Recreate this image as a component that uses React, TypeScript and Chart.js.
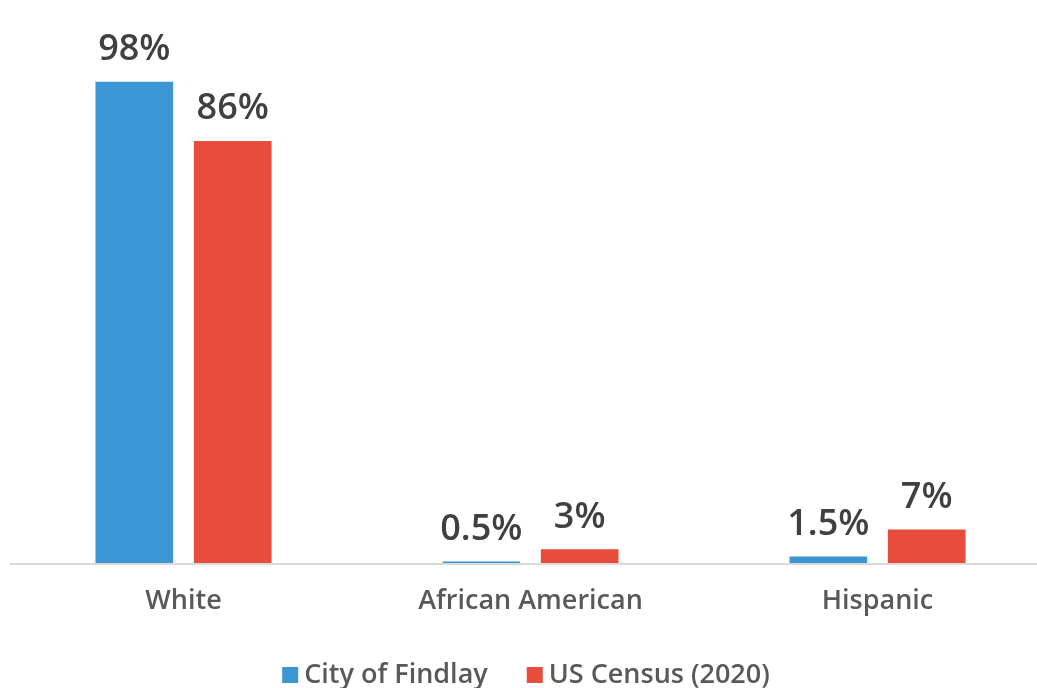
import React, { useEffect, useRef } from "react";
import { Chart, registerables } from "chart.js";

Chart.register(...registerables);

const categories = ["White", "African American", "Hispanic"];
const seriesNames = ["City of Findlay", "US Census (2020)"];
const findlayValues = [98, 0.5, 1.5];
const censusValues = [86, 3, 7];
const findlayLabels = ["98%", "0.5%", "1.5%"];
const censusLabels = ["86%", "3%", "7%"];
const colors = ["#3C96D3", "#E74C3C"];

const LABEL_FONT = "'Open Sans', Lato, sans-serif";

const customDraw = {
  id: "customDraw",
  afterDatasetsDraw(chart: any) {
    const ctx = chart.ctx;
    const area = chart.chartArea;
    const xScale = chart.scales.x;
    ctx.save();
    // axis line
    ctx.strokeStyle = "#D9D9D9";
    ctx.lineWidth = 2;
    ctx.beginPath();
    ctx.moveTo(area.left, area.bottom);
    ctx.lineTo(chart.width, area.bottom);
    ctx.stroke();

    // data labels
    const labelSets = [findlayLabels, censusLabels];
    ctx.font = `600 36px ${LABEL_FONT}`;
    ctx.fillStyle = "#404040";
    ctx.textAlign = "center";
    ctx.textBaseline = "alphabetic";
    chart.data.datasets.forEach((ds: any, di: number) => {
      const meta = chart.getDatasetMeta(di);
      meta.data.forEach((bar: any, i: number) => {
        ctx.fillText(labelSets[di][i], bar.x, bar.y - 21.5);
      });
    });

    // category labels
    ctx.font = `600 27px ${LABEL_FONT}`;
    ctx.fillStyle = "#595959";
    categories.forEach((c, i) => {
      const x = xScale.getPixelForValue(i);
      ctx.fillText(c, x, 609);
    });

    // legend
    ctx.font = `600 27px ${LABEL_FONT}`;
    ctx.textAlign = "left";
    const box = 16;
    const boxGap = 6;
    const itemGap = 39;
    const widths = seriesNames.map((n) => ctx.measureText(n).width);
    const total =
      widths.reduce((a, b) => a + b, 0) +
      seriesNames.length * (box + boxGap) +
      itemGap * (seriesNames.length - 1);
    let x = 526 - total / 2;
    seriesNames.forEach((n, i) => {
      ctx.fillStyle = colors[i];
      ctx.fillRect(x, 667, box, box);
      x += box + boxGap;
      ctx.fillStyle = "#595959";
      ctx.fillText(n, x, 683);
      x += widths[i] + itemGap;
    });
    ctx.restore();
  },
};

export default function App() {
  const ref = useRef<HTMLCanvasElement>(null);
  useEffect(() => {
    const canvas = ref.current!;
    const chart = new Chart(canvas, {
      type: "bar",
      data: {
        labels: categories,
        datasets: [
          {
            label: seriesNames[0],
            data: findlayValues,
            backgroundColor: colors[0],
            barPercentage: 0.79,
            categoryPercentage: 0.567,
          },
          {
            label: seriesNames[1],
            data: censusValues,
            backgroundColor: colors[1],
            barPercentage: 0.79,
            categoryPercentage: 0.567,
          },
        ],
      },
      options: {
        responsive: false,
        animation: false,
        devicePixelRatio: 1,
        layout: { padding: { left: 10, right: 0, top: 72, bottom: 124 } },
        scales: {
          x: { display: false },
          y: { display: false, min: 0, max: 100 },
        },
        plugins: {
          legend: { display: false },
          tooltip: { enabled: false },
        },
      },
      plugins: [customDraw],
    });
    return () => chart.destroy();
  }, []);
  return (
    <div
      style={{
        position: "fixed",
        left: 0,
        top: 0,
        width: 1037,
        height: 688,
        overflow: "hidden",
        background: "#fff",
      }}
    >
      <canvas ref={ref} width={1051} height={688} style={{ width: 1051, height: 688, display: "block" }} />
    </div>
  );
}
